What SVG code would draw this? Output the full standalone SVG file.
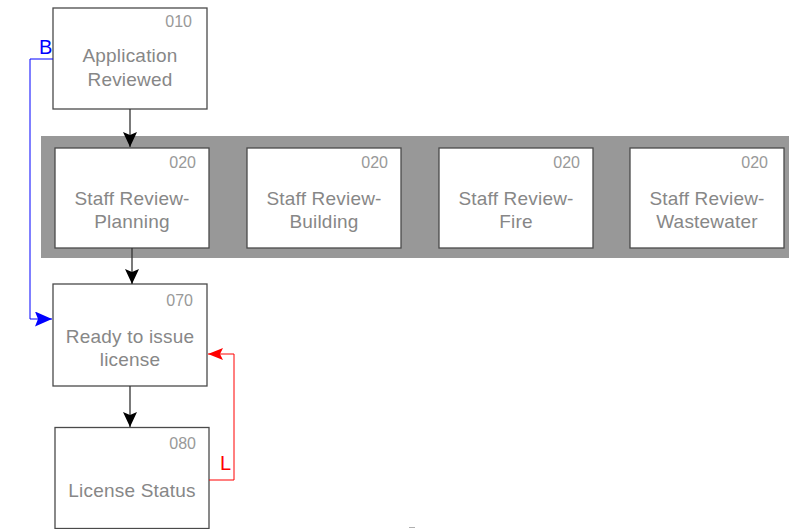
<svg xmlns="http://www.w3.org/2000/svg" width="789" height="529" viewBox="0 0 789 529">
<style>
.box{fill:#fff;stroke:#4a4a4a;stroke-width:1.3}
.lbl{font-family:"Liberation Sans",Arial,sans-serif;font-size:19px;fill:#878787;text-anchor:middle;letter-spacing:0.2px}
.num{font-family:"Liberation Sans",Arial,sans-serif;font-size:16px;fill:#999;text-anchor:end}
.blk{stroke:#333;stroke-width:1.3;fill:none}
.blu{stroke:#0000ff;stroke-width:1;fill:none}
.red{stroke:#ff0000;stroke-width:1;fill:none}
.tag{font-family:"Liberation Sans",Arial,sans-serif;font-size:20px}
</style>
<defs>
<marker id="ab" viewBox="0 0 15 14" refX="15" refY="7" markerWidth="15" markerHeight="14" orient="auto" markerUnits="userSpaceOnUse"><path d="M0,0 L15,7 L0,14 L3,7 z" fill="#000"/></marker>
<marker id="au" viewBox="0 0 17 15" refX="17" refY="7.5" markerWidth="17" markerHeight="15" orient="auto" markerUnits="userSpaceOnUse"><path d="M0,0 L17,7.5 L0,15 L3,7.5 z" fill="#0000ff"/></marker>
<marker id="ar" viewBox="0 0 15 12" refX="15" refY="6" markerWidth="15" markerHeight="12" orient="auto" markerUnits="userSpaceOnUse"><path d="M0,0 L15,6 L0,12 L3,6 z" fill="#ff0000"/></marker>
</defs>
<rect id="band" x="41" y="136" width="750" height="122" fill="#989898"/>
<g id="n010">
<rect class="box" x="53" y="8" width="154" height="101"/>
<text class="num" x="192" y="27">010</text>
<text class="lbl" x="130" y="62">Application</text>
<text class="lbl" x="130" y="86">Reviewed</text>
</g>
<g id="n020a">
<rect class="box" x="55" y="148" width="154" height="100"/>
<text class="num" x="196" y="168">020</text>
<text class="lbl" x="132" y="205">Staff Review-</text>
<text class="lbl" x="132" y="228">Planning</text>
</g>
<g id="n020b">
<rect class="box" x="247" y="148" width="154" height="100"/>
<text class="num" x="388" y="168">020</text>
<text class="lbl" x="324" y="205">Staff Review-</text>
<text class="lbl" x="324" y="228">Building</text>
</g>
<g id="n020c">
<rect class="box" x="439" y="148" width="154" height="100"/>
<text class="num" x="580" y="168">020</text>
<text class="lbl" x="516" y="205">Staff Review-</text>
<text class="lbl" x="516" y="228">Fire</text>
</g>
<g id="n020d">
<rect class="box" x="630" y="148" width="154" height="100"/>
<text class="num" x="768" y="168">020</text>
<text class="lbl" x="707" y="205">Staff Review-</text>
<text class="lbl" x="707" y="228">Wastewater</text>
</g>
<g id="n070">
<rect class="box" x="53" y="284" width="154" height="102"/>
<text class="num" x="193" y="306">070</text>
<text class="lbl" x="130" y="343">Ready to issue</text>
<text class="lbl" x="130" y="366">license</text>
</g>
<g id="n080">
<rect class="box" x="55" y="427.5" width="154" height="101"/>
<text class="num" x="196" y="449">080</text>
<text class="lbl" x="132" y="497">License Status</text>
</g>
<g id="connectors">
<path class="blk" d="M130,109 V147" marker-end="url(#ab)"/>
<path class="blk" d="M132,248 V284" marker-end="url(#ab)"/>
<path class="blk" d="M130,386 V427" marker-end="url(#ab)"/>
<path class="blu" d="M53,59 H30 V319 H52" marker-end="url(#au)"/>
<text class="tag" x="39" y="54" fill="#0000ff">B</text>
<path class="red" d="M209,480 H234 V354 H208" marker-end="url(#ar)"/>
<text class="tag" x="220" y="470" fill="#ff0000">L</text>
</g>
<line x1="409" y1="527.5" x2="415" y2="527.5" stroke="#b0b0b0" stroke-width="1"/>
</svg>
